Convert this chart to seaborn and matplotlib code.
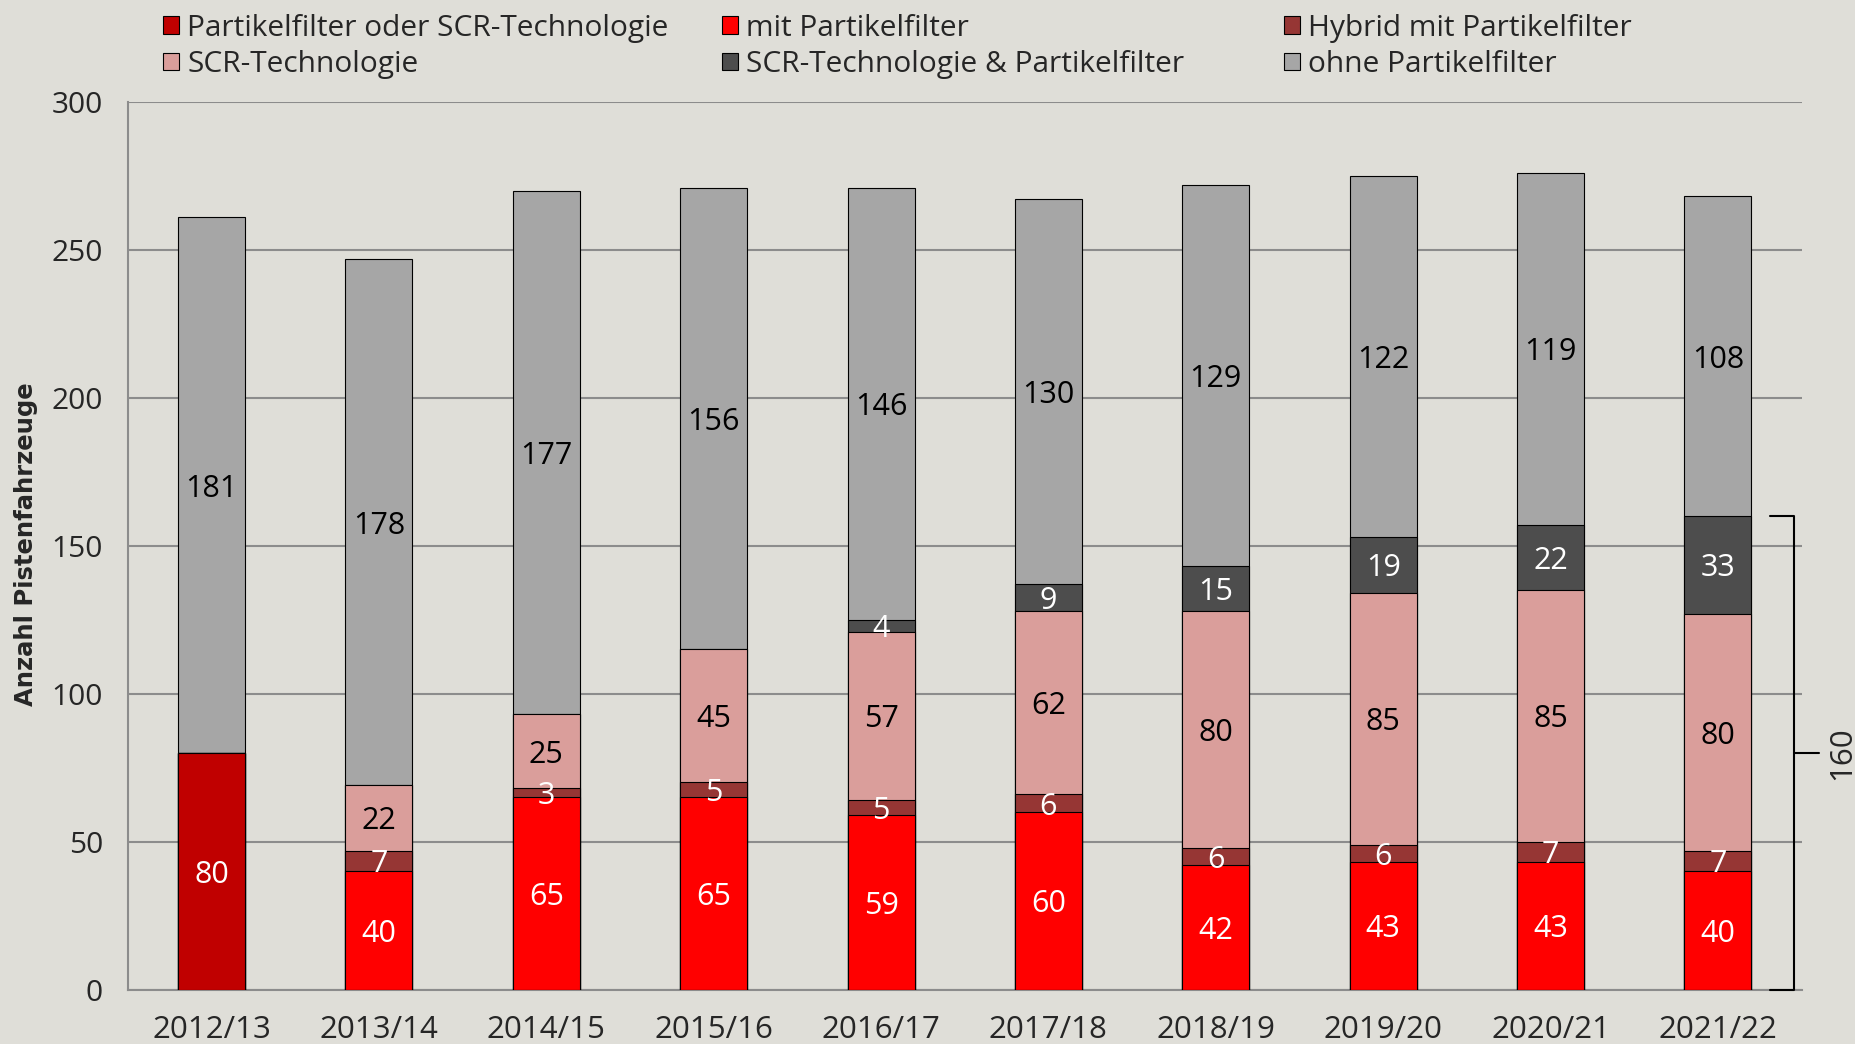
import numpy as np
import matplotlib
matplotlib.use('Agg')
import matplotlib.pyplot as plt
from matplotlib.patches import Patch
import seaborn as sns

# Data
seasons = ['2012/13', '2013/14', '2014/15', '2015/16', '2016/17',
           '2017/18', '2018/19', '2019/20', '2020/21', '2021/22']
pf_oder_scr = [80, 0, 0, 0, 0, 0, 0, 0, 0, 0]
mit_pf = [0, 40, 65, 65, 59, 60, 42, 43, 43, 40]
hybrid_pf = [0, 7, 3, 5, 5, 6, 6, 6, 7, 7]
scr = [0, 22, 25, 45, 57, 62, 80, 85, 85, 80]
scr_und_pf = [0, 0, 0, 0, 4, 9, 15, 19, 22, 33]
ohne_pf = [181, 178, 177, 156, 146, 130, 129, 122, 119, 108]

layer_names = ['Partikelfilter oder SCR-Technologie', 'mit Partikelfilter',
               'Hybrid mit Partikelfilter', 'SCR-Technologie',
               'SCR-Technologie & Partikelfilter', 'ohne Partikelfilter']
layer_colors = ['#C00000', '#FF0000', '#963634', '#DA9E9B', '#4D4D4D', '#A6A6A6']
label_colors = ['white', 'white', 'white', 'black', 'white', 'black']

bracket_total = 160

BG = '#DFDED8'
GRID = '#8C8C8C'

sns.set_style('white')
plt.rcParams['font.family'] = ['Open Sans', 'DejaVu Sans']

fig = plt.figure(figsize=(18.56, 10.44), dpi=100, facecolor=BG)
ax = fig.add_axes([0.0689, 0.0521, 0.9018, 0.8504])
ax.set_facecolor(BG)

layers = [pf_oder_scr, mit_pf, hybrid_pf, scr, scr_und_pf, ohne_pf]
cum = np.cumsum(np.array(layers), axis=0)

# stacked bars: draw cumulative totals from the top layer down
for k in range(len(layers) - 1, -1, -1):
    sns.barplot(x=seasons, y=cum[k], color=layer_colors[k], saturation=1,
                width=0.4, edgecolor='black', linewidth=0.8, errorbar=None,
                ax=ax, zorder=3)

# value labels
for k, vals in enumerate(layers):
    for i, v in enumerate(vals):
        if v > 0:
            ax.text(i, cum[k][i] - v / 2, str(v), ha='center',
                    va='center_baseline', color=label_colors[k],
                    fontsize=22, zorder=5)

# axes styling
ax.set_ylim(0, 300)
ax.set_xlim(-0.5, 9.5)
ax.set_yticks(range(0, 301, 50))
ax.yaxis.grid(True, color=GRID, linewidth=1.5)
ax.set_axisbelow(True)
ax.set_xlabel('')
ax.set_ylabel('')

ax.set_xticks(np.arange(-0.5, 10, 1))
ax.set_xticklabels([])
ax.set_xticks(range(len(seasons)), minor=True)
ax.set_xticklabels(seasons, minor=True)
ax.tick_params(axis='x', which='minor', length=0, pad=18, labelsize=22.5)
ax.tick_params(axis='x', which='major', length=7, width=1.5, color=GRID)
ax.tick_params(axis='y', length=7, width=1.5, color=GRID, pad=11, labelsize=21.5)

sns.despine(ax=ax)
for s in ['left', 'bottom']:
    ax.spines[s].set_color(GRID)
    ax.spines[s].set_linewidth(1.5)

fig.text(26 / 1856, 1 - 544 / 1044, 'Anzahl Pistenfahrzeuge', rotation=90,
         ha='center', va='center', fontsize=17.5, fontweight='bold',
         family=['DejaVu Sans'])

# bracket for last season
bx = 9.457
ax.plot([9.313, bx, bx, 9.313], [bracket_total, bracket_total, 0, 0],
        color='black', lw=1.5, clip_on=False, zorder=4)
ax.plot([bx, 9.601], [bracket_total / 2, bracket_total / 2], color='black',
        lw=1.5, clip_on=False, zorder=4)
ax.text(9.74, bracket_total / 2, str(bracket_total), rotation=90, ha='center',
        va='center', fontsize=22.5, clip_on=False)

# legend: three columns, two rows
handles = [Patch(facecolor=c, edgecolor='black', linewidth=0.8) for c in layer_colors]
col_x = [163, 722, 1284]
for j in range(3):
    fig.legend(handles=[handles[j], handles[j + 3]],
               labels=[layer_names[j], layer_names[j + 3]],
               loc='upper left', bbox_to_anchor=(col_x[j] / 1856, 0.987),
               frameon=False, fontsize=21.5, handlelength=0.52, handleheight=0.52,
               handletextpad=0.3, borderpad=0, borderaxespad=0, labelspacing=0.25)

fig.savefig('out.png', dpi=100, facecolor=BG)
